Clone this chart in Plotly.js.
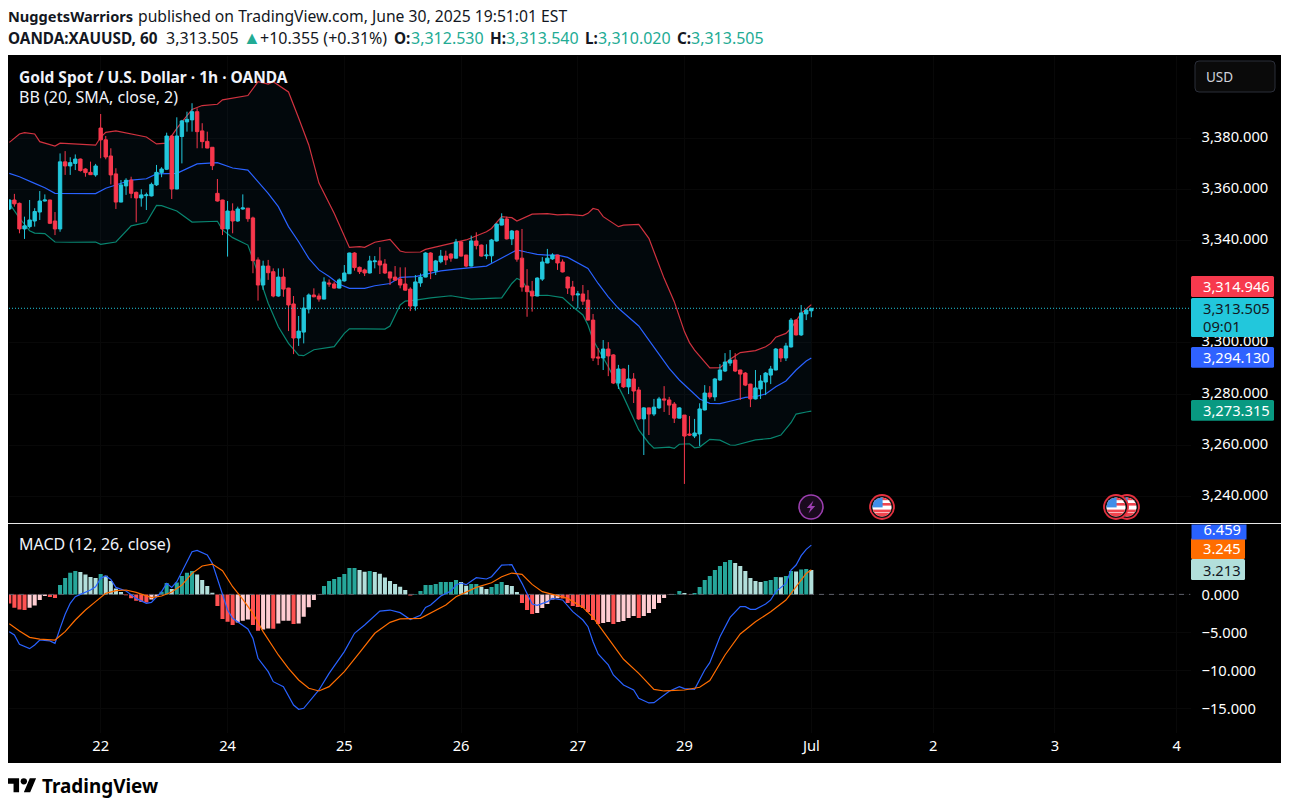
<!DOCTYPE html>
<html><head><meta charset="utf-8">
<script src="https://cdn.plot.ly/plotly-3.0.1.min.js"></script>
<style>html,body{margin:0;padding:0;background:#fff;overflow:hidden}</style></head>
<body><div id="chart" style="width:1289px;height:809px"></div>
<script>
const opens=[3352.3,3355.8,3354.5,3344.5,3345.4,3347.6,3351.1,3355.4,3355.8,3347.6,
3344.5,3370.7,3369.1,3370.1,3371.8,3367.9,3366.6,3365.6,3383.9,3379.3,
3373.0,3366.0,3355.0,3361.3,3363.6,3358.8,3356.6,3357.5,3357.4,3361.7,
3366.5,3367.8,3380.8,3360.1,3380.6,3386.3,3387.1,3390.3,3382.8,3378.7,
3376.4,3358.4,3355.8,3344.5,3351.5,3347.6,3352.3,3352.6,3348.8,3332.4,
3322.6,3330.0,3327.8,3318.3,3325.7,3321.4,3315.2,3301.9,3304.2,3313.2,
3318.7,3318.3,3317.1,3323.4,3323.0,3321.4,3324.2,3327.0,3335.1,3329.5,
3328.5,3327.3,3331.7,3332.0,3330.8,3327.7,3325.7,3324.9,3323.0,3321.0,
3314.4,3323.4,3325.7,3335.1,3328.1,3331.7,3333.9,3334.7,3333.1,3339.4,
3334.3,3330.0,3339.8,3338.2,3334.0,3334.0,3339.8,3346.0,3348.4,3340.6,
3343.7,3333.1,3322.2,3320.2,3318.3,3324.9,3331.2,3332.8,3334.3,3331.6,
3325.7,3321.8,3318.7,3319.1,3316.7,3308.9,3294.5,3294.1,3297.6,3295.3,
3284.3,3289.8,3282.8,3285.9,3281.6,3270.3,3274.6,3272.2,3274.6,3278.1,
3277.7,3276.1,3270.6,3271.8,3264.4,3263.6,3264.4,3273.8,3280.4,3278.9,
3285.5,3289.0,3292.1,3293.3,3289.4,3288.2,3283.9,3278.1,3282.0,3284.7,
3287.4,3289.4,3297.6,3294.1,3298.4,3308.9,3303.1,3311.3,3312.53];
const closes=[3355.8,3354.3,3344.5,3345.7,3348.0,3351.3,3355.4,3355.8,3346.7,3344.5,
3370.7,3369.1,3370.4,3371.8,3367.3,3366.5,3365.7,3369.1,3379.3,3372.6,
3365.6,3355.0,3361.7,3363.5,3358.4,3356.6,3357.8,3357.8,3361.9,3366.6,
3367.9,3380.8,3360.1,3380.8,3386.7,3387.3,3390.3,3382.5,3378.6,3376.1,
3369.2,3355.4,3344.5,3351.5,3347.6,3352.3,3352.7,3348.5,3332.1,3322.6,
3330.0,3327.4,3318.3,3325.7,3321.0,3314.8,3301.9,3304.6,3313.6,3318.7,
3318.0,3317.1,3323.8,3323.0,3321.4,3324.6,3327.3,3335.1,3329.4,3327.8,
3327.3,3332.0,3332.0,3330.4,3327.3,3325.3,3324.5,3322.6,3320.6,3314.4,
3323.8,3325.7,3335.1,3328.1,3332.0,3333.9,3332.4,3333.1,3339.4,3333.9,
3330.0,3339.8,3338.0,3333.9,3334.3,3340.2,3346.4,3348.4,3340.6,3343.7,
3332.7,3321.8,3320.0,3318.3,3325.3,3331.6,3333.1,3334.3,3331.2,3327.7,
3321.4,3318.7,3319.1,3316.3,3308.9,3294.1,3294.1,3297.6,3294.9,3284.3,
3289.8,3282.8,3285.9,3281.2,3270.3,3274.6,3272.2,3274.9,3278.1,3277.7,
3275.7,3270.6,3274.6,3263.6,3264.0,3264.8,3274.2,3280.4,3278.9,3285.9,
3289.4,3292.5,3293.3,3289.0,3287.8,3283.5,3278.1,3282.4,3285.1,3288.2,
3289.8,3297.6,3294.1,3298.8,3308.9,3303.1,3311.7,3312.8,3313.505];
const highs=[3356.0,3358.2,3354.8,3349.3,3355.8,3352.6,3359.3,3358.0,3355.9,3351.1,
3374.0,3374.9,3372.5,3373.6,3372.0,3368.2,3370.8,3369.9,3389.4,3380.8,
3376.0,3368.2,3363.6,3364.3,3364.9,3359.1,3360.0,3358.7,3362.6,3369.5,
3368.6,3382.1,3381.2,3388.1,3387.1,3390.3,3393.6,3391.6,3385.8,3382.5,
3376.5,3364.0,3355.9,3355.4,3354.5,3353.2,3358.0,3352.7,3349.3,3333.4,
3332.1,3332.4,3329.1,3329.1,3329.1,3321.5,3318.3,3310.5,3317.8,3319.3,
3321.3,3319.3,3325.6,3324.8,3323.9,3325.2,3330.4,3335.2,3335.4,3329.8,
3329.0,3334.0,3333.9,3337.4,3332.7,3327.8,3330.0,3329.5,3329.5,3321.7,
3326.5,3327.1,3335.4,3335.4,3332.4,3336.3,3336.0,3335.0,3340.6,3339.8,
3334.4,3341.9,3343.2,3338.4,3338.5,3340.6,3346.7,3350.6,3349.3,3344.1,
3344.1,3344.5,3328.8,3324.2,3325.6,3333.5,3336.7,3335.0,3334.4,3332.6,
3325.9,3324.2,3320.3,3322.6,3320.6,3311.3,3298.0,3301.1,3300.3,3295.6,
3291.4,3289.9,3291.4,3288.2,3282.8,3274.9,3274.7,3278.1,3278.9,3283.1,
3278.9,3276.9,3274.9,3271.8,3271.4,3270.3,3276.4,3283.5,3283.1,3286.3,
3291.7,3296.0,3297.2,3296.0,3289.5,3288.6,3284.0,3289.4,3287.4,3288.6,
3291.0,3298.0,3298.0,3300.0,3309.7,3309.3,3314.8,3313.2,3313.54];
const lows=[3351.9,3353.2,3342.8,3340.6,3344.7,3345.4,3348.0,3355.2,3346.4,3342.1,
3343.4,3365.6,3365.6,3367.5,3366.9,3364.9,3365.6,3364.9,3372.1,3371.7,
3361.9,3352.3,3354.9,3357.8,3356.5,3347.1,3353.2,3351.9,3357.2,3361.3,
3364.7,3367.5,3356.2,3360.0,3370.1,3382.5,3382.5,3376.0,3376.0,3376.0,
3367.5,3355.2,3342.1,3333.7,3342.8,3347.3,3352.0,3347.3,3327.2,3316.5,
3320.7,3324.6,3317.8,3318.0,3318.0,3304.6,3295.6,3298.8,3299.8,3311.5,
3317.8,3316.1,3317.0,3321.9,3321.2,3321.3,3323.9,3326.9,3328.2,3326.9,
3326.1,3327.1,3329.1,3326.9,3326.9,3322.6,3324.4,3321.3,3320.4,3312.4,
3312.6,3321.9,3325.6,3324.9,3326.5,3331.1,3330.4,3331.7,3333.0,3333.7,
3329.5,3329.8,3336.5,3333.7,3332.7,3331.3,3339.6,3345.9,3340.4,3338.2,
3331.7,3320.0,3310.2,3312.2,3318.2,3324.2,3331.1,3332.4,3328.5,3327.5,
3319.1,3316.3,3313.5,3314.8,3308.8,3292.9,3291.3,3289.4,3287.0,3283.9,
3282.0,3282.4,3280.0,3276.5,3269.9,3256.2,3264.0,3271.4,3274.2,3273.0,
3271.8,3268.7,3270.5,3244.9,3263.6,3262.8,3259.7,3273.6,3278.1,3277.3,
3285.1,3288.6,3291.0,3288.6,3277.7,3283.1,3274.9,3277.9,3278.1,3279.6,
3283.9,3289.3,3292.5,3292.9,3298.2,3302.9,3302.7,3308.9,3310.02];

const upperBars=[1,3,4,6,7,10,11,16,18,19,20,22,25,28,30,32,34,36,37,39,42,43,48,50,52,53,56,58,60,62,65,68,70,71,73,76,78,79,82,83,87,89,91,95,96,98,100,101,104,107,109,111,114,115,116,117,118,121,122,125,127,130,132,134,135,136,138,139,141,143,145,148,150,151,152,154,155,157,159];
const upperBand=[3378.3,3381.6,3382.1,3381.6,3378.6,3376.9,3378,3377.4,3377.2,3380.3,3382.2,3382.8,3381.6,3380.4,3377.7,3378.0,3383.8,3389,3391.2,3392.7,3393.2,3394.9,3396.6,3402,3401.1,3402,3398,3387.8,3377.3,3362.4,3350.6,3337.3,3337.6,3337.3,3339.3,3340.4,3335.9,3335.4,3335.5,3336.5,3338.5,3339.5,3340.2,3343.4,3344.7,3349.3,3348.9,3347.6,3350.3,3350.5,3350,3350.2,3349.7,3350.6,3352.5,3352.0,3349.3,3345.4,3346.0,3346.3,3340.8,3325.2,3316.1,3304.4,3300.1,3297.2,3292.7,3290.2,3290.3,3293.6,3296.2,3297,3298.5,3299.8,3302.2,3303.7,3305.7,3311.5,3314.946];
const basisBars=[1,3,6,8,10,13,18,20,22,25,28,30,34,36,38,42,45,48,51,52,54,56,58,60,62,64,66,68,71,73,76,78,81,83,86,89,93,95,97,99,101,103,105,107,109,111,115,117,119,121,123,125,127,129,131,133,135,137,139,141,144,146,148,150,152,154,156,158,159];
const basisBand=[3366.2,3364.9,3362.3,3360.6,3358.4,3358.4,3358.3,3360.4,3361.7,3363.6,3364.1,3366,3366.2,3368.2,3369.9,3370.4,3368.3,3367.5,3360.4,3358.4,3353.2,3345.4,3339.5,3333,3328.5,3325.9,3322.9,3321.3,3321.3,3322.3,3323.2,3325.6,3325.9,3326.8,3328.1,3328.8,3329.7,3330,3332.1,3334.3,3336.3,3335.4,3334.6,3334.3,3334.3,3333.4,3329.1,3323.2,3318,3313.5,3310.2,3306.6,3301.1,3295.3,3290,3285.5,3281.6,3278.1,3276.4,3276.3,3277.7,3278.7,3279,3280,3282.9,3285.1,3289.4,3292.9,3294.13];
const lowerBars=[1,3,5,6,8,10,13,18,19,22,25,28,30,31,34,37,42,43,45,48,50,52,54,56,58,59,61,65,67,68,71,75,76,78,79,81,84,88,92,96,98,100,101,102,104,107,110,112,114,115,116,119,122,125,127,128,131,132,133,135,136,137,139,141,143,144,148,151,153,155,156,158,159];
const lowerBand=[3354.5,3348.7,3343.8,3342.9,3342.7,3339.4,3339.3,3339.4,3338.5,3339.4,3345.7,3347,3353.7,3353.6,3351.5,3347.2,3347.5,3344.1,3341.1,3338.2,3327.2,3315.5,3306.3,3299.8,3295.2,3295,3297.3,3298.5,3303.7,3305.5,3305.5,3305.4,3306.6,3314.8,3316.3,3316.7,3317.6,3318.4,3317.1,3317.6,3317.6,3323.2,3325.2,3324.3,3318.5,3318.6,3317.7,3314.1,3310.9,3307,3301.1,3290.7,3279,3266,3260.8,3258.9,3259.3,3258.8,3260.4,3260.6,3259,3259.3,3262.3,3262,3260.1,3260,3262.1,3262.7,3264,3268.8,3272.2,3273,3273.315];

const macdHist=[-1.18,-1.75,-1.97,-2.05,-1.75,-1.44,-0.74,-0.22,-0.35,-0.48,
1.22,2.14,2.84,3.06,2.93,2.62,2.27,2.14,2.66,2.45,
1.75,0.79,0.31,-0.1,-0.52,-0.83,-1.0,-1.05,-0.66,-0.31,
0.35,1.49,0.70,1.57,2.40,2.84,3.06,2.62,1.88,1.09,
0.22,-1.53,-3.23,-3.58,-4.02,-3.67,-3.45,-3.28,-4.02,-4.76,
-4.59,-4.46,-4.50,-3.80,-3.45,-3.45,-3.89,-3.80,-2.93,-1.70,
-0.74,-0.04,1.09,1.75,2.01,2.27,2.66,3.45,3.46,3.19,
2.97,3.06,2.93,2.71,2.23,1.75,1.35,1.0,0.57,-0.13,
0.04,0.44,1.22,1.23,1.35,1.62,1.63,1.64,1.88,1.62,
1.14,1.35,1.36,1.0,0.70,0.96,1.35,1.62,1.22,1.09,
0.31,-1.14,-2.05,-2.58,-2.45,-1.79,-1.27,-0.66,-0.52,-0.53,
-1.14,-1.53,-1.66,-1.79,-2.32,-3.36,-3.89,-3.76,-3.63,-3.89,
-3.63,-3.49,-3.10,-2.84,-3.10,-2.84,-2.45,-1.92,-1.14,-0.48,
-0.04,0.05,0.44,0.17,-0.05,0.17,0.96,1.88,2.40,3.19,
3.71,4.24,4.50,4.11,3.71,3.06,2.14,1.75,1.62,1.75,
1.88,2.27,2.25,2.40,3.06,3.0,3.25,3.32,3.213];

const macdBars=[1,2,3,5,6,7,9,10,11,12,13,14,15,17,18,19,20,21,22,24,26,28,29,31,32,33,34,35,36,37,38,40,41,43,44,45,46,48,49,50,52,53,55,57,58,59,62,64,67,69,71,74,76,78,80,82,83,84,86,88,89,90,91,93,95,96,98,100,102,104,105,107,108,110,112,114,115,116,117,119,120,122,124,125,127,128,131,133,134,136,138,139,141,143,145,146,147,148,150,151,152,154,155,156,157,158,159];
const macdLine=[-4.88,-5.32,-6.54,-7.11,-6.63,-5.98,-6.1,-6.41,-4.45,-2.61,-1.17,-0.30,0,0.58,1.0,2.11,2.41,1.97,0.92,0.45,-0.52,-1.17,-1.04,0.36,1.45,0.92,1.67,2.98,4.29,5.6,5.77,5.16,4.07,0.14,-2.05,-3.14,-3.57,-4.53,-5.76,-8.38,-10.13,-11.44,-12.09,-14.5,-15.06,-14.93,-12.53,-10.35,-7.5,-5.1,-4.01,-2.18,-2.05,-2.39,-3.3,-2.75,-1.7,-1.39,-0.21,0.44,1.23,1.49,1.28,2.19,2.02,2.32,3.85,3.9,1.45,-1.26,-1.43,-0.95,-0.52,-0.73,-2.26,-3.36,-4.23,-6.2,-7.81,-9.25,-10.56,-11.87,-12.53,-13.62,-14.23,-14.19,-12.7,-12.09,-12.35,-12.45,-9.91,-8.95,-5.54,-3.01,-1.61,-1.61,-1.96,-1.96,-1.26,-0.73,0.36,1.45,3.2,3.85,5.08,5.9,6.459];
const signalBars=[1,3,5,7,10,12,14,16,18,20,22,24,26,29,31,33,35,37,39,41,43,45,47,49,51,54,56,58,60,62,64,67,70,73,76,78,82,84,87,89,93,96,98,100,102,104,106,108,111,114,116,119,122,125,128,130,134,137,139,142,145,148,151,154,156,158,159];
const signalLine=[-3.84,-4.8,-5.63,-5.85,-5.98,-4.88,-3.36,-2.05,-0.95,0.14,0.49,0.58,0.27,-0.43,-0.21,0.31,1.23,2.76,3.72,3.98,3.11,1.01,-0.65,-2.48,-4.88,-7.94,-9.69,-11.22,-12.31,-12.66,-12.09,-10.13,-7.64,-5.1,-3.66,-3.22,-3.14,-2.48,-1.39,-0.3,0.92,1.53,2.32,2.8,2.62,1.31,0.36,0,-0.52,-1.7,-3.01,-5.76,-8.5,-10.35,-12.45,-12.66,-12.53,-12.17,-11.3,-7.94,-5.19,-3.58,-2.27,-0.74,1.0,2.75,3.245];

const timeTickBars=[19,44,67,90,113,134,159,183,207,231];
const timeTickLabels=['22','24','25','26','27','29','Jul','2','3','4'];
const priceTicks=[3240,3260,3280,3300,3340,3360,3380];
const macdTicks=[0,-5,-10,-15];
const lastClose=3313.505, lastUpper=3314.946, lastBasis=3294.13, lastLower=3273.315;
const lastMacd=6.459, lastSignal=3.245, lastHist=3.213;

const W=1289,H=809;
const px=v=>v/W, py=v=>1-v/H;
const FONT='"Noto Sans", sans-serif';
const CY='#22c7dc',RED='#f23645',BLUE='#2962ff',GRN='#089981',ORG='#ff6d00',TEAL='#22ab94';
const bars=opens.map((_,i)=>i+1);
const xRange=[0.94,233.7], priceRange=[3229.64,3412.05], macdRange=[-18.17,9.23];
const labelNudge=0.625;

const histColor=macdHist.map((v,i)=>{const p=i?macdHist[i-1]:0;
  return v>=0?(v>=p?'#26a69a':'#b2dfdb'):(v<p?'#ff5252':'#ffcdd2');});
const fmt=v=>v.toLocaleString('en-US',{minimumFractionDigits:3,maximumFractionDigits:3});

const traces=[
 {type:'scatter',mode:'lines',x:upperBars,y:upperBand,xaxis:'x',yaxis:'y',line:{color:'#d0323f',width:1.2},hoverinfo:'skip'},
 {type:'scatter',mode:'lines',x:lowerBars,y:lowerBand,xaxis:'x',yaxis:'y',line:{color:'#088570',width:1.2},fill:'tonexty',fillcolor:'rgba(33,150,243,0.05)',hoverinfo:'skip'},
 {type:'scatter',mode:'lines',x:basisBars,y:basisBand,xaxis:'x',yaxis:'y',line:{color:BLUE,width:1.2},hoverinfo:'skip'},
 {type:'candlestick',x:bars,open:opens,high:highs,low:lows,close:closes,xaxis:'x',yaxis:'y3',whiskerwidth:0,
  increasing:{line:{color:CY,width:1},fillcolor:CY},decreasing:{line:{color:'#f7374c',width:1},fillcolor:'#f7374c'},hoverinfo:'skip'},
 {type:'scatter',mode:'lines',x:xRange,y:[lastClose,lastClose],xaxis:'x',yaxis:'y3',line:{color:CY,width:1,dash:'1px 2px'},hoverinfo:'skip'},
 {type:'scatter',mode:'markers',x:priceTicks.map(()=>xRange[1]),y:priceTicks,xaxis:'x',yaxis:'y4',marker:{opacity:0,size:1},hoverinfo:'skip'},
 {type:'bar',x:bars,y:macdHist,xaxis:'x',yaxis:'y2',width:0.8,marker:{color:histColor,line:{width:0}},hoverinfo:'skip'},
 {type:'scatter',mode:'lines',x:xRange,y:[0,0],xaxis:'x',yaxis:'y2',line:{color:'#5d606b',width:1,dash:'5px 5px'},hoverinfo:'skip'},
 {type:'scatter',mode:'lines',x:macdBars,y:macdLine,xaxis:'x',yaxis:'y2',line:{color:BLUE,width:1.2},hoverinfo:'skip'},
 {type:'scatter',mode:'lines',x:signalBars,y:signalLine,xaxis:'x',yaxis:'y2',line:{color:ORG,width:1.2},hoverinfo:'skip'}
];

const svgUri=s=>'data:image/svg+xml;charset=utf-8,'+encodeURIComponent(s);
const flag=`<svg xmlns="http://www.w3.org/2000/svg" width="78" height="78" viewBox="0 0 26 26"><defs><clipPath id="c"><circle cx="13" cy="13" r="9.6"/></clipPath></defs><circle cx="13" cy="13" r="12" fill="#111" stroke="#e5303f" stroke-width="1.8"/><g clip-path="url(#c)"><rect width="26" height="26" fill="#fff"/><rect x="3" y="3" width="20" height="3.2" fill="#f0454f"/><rect x="3" y="9" width="20" height="2.6" fill="#f0454f"/><rect x="3" y="15.6" width="20" height="2.8" fill="#f0454f"/><rect x="3" y="19" width="20" height="4" fill="#f0454f"/><rect x="3" y="3" width="10.6" height="10.4" fill="#3f8fe8"/></g></svg>`;
const bolt=`<svg xmlns="http://www.w3.org/2000/svg" width="78" height="78" viewBox="0 0 26 26"><circle cx="13" cy="13" r="12" fill="#1a0a1e" stroke="#9c3fb0" stroke-width="1.6"/><path d="M15.5 6.5 L8.8 14 H12.6 L10.5 19.5 L17.2 12 H13.4 Z" fill="#9c3fb0"/></svg>`;
const tvLogo=`<svg xmlns="http://www.w3.org/2000/svg" width="108" height="84" viewBox="0 0 36 28"><path d="M14 22H7V11H0V4h14v18zM28 22h-8l7.5-18h8L28 22z" fill="#000"/><circle cx="20" cy="8" r="4" fill="#000"/></svg>`;
const img=(src,x,y,w,h)=>({source:svgUri(src),xref:'paper',yref:'paper',x:px(x),y:py(y),sizex:w/W,sizey:h/H,xanchor:'left',yanchor:'top',sizing:'stretch',layer:'above'});
const images=[img(bolt,798,494,26,26),img(flag,869,494,26,26),img(flag,1114,494,26,26),img(flag,1103,494,26,26),img(tvLogo,8,775,28.5,22)];

const txt=(s,x,y,o={})=>({text:s,xref:'paper',yref:'paper',x:px(x-1),y:py(y),xanchor:'left',yanchor:'middle',showarrow:false,align:'left',borderpad:0,
  font:{family:FONT,size:o.size||16,color:o.color||'#131722'}});
const b=s=>'<b>'+s+'</b>';
const TAG={size:14.7};
const tag=(s,y,color)=>txt(s,1203,y,{size:TAG.size,color});
const annotations=[
 txt(b('NuggetsWarriors'),8,16,{size:14.6}),
 txt('published on TradingView.com, June 30, 2025 19:51:01 EST',138,16,{size:15.7}),
 txt(b('OANDA:XAUUSD, 60'),8,38,{size:15.3}),
 txt(fmt(lastClose),166,38),
 txt('▲',243,37,{color:TEAL,size:18}),
 txt('+10.355 (+0.31%)',260,38),
 txt(b('O:'),394,38,{size:15.3}),txt('3,312.530',411,38,{color:TEAL}),
 txt(b('H:'),490,38,{size:15.3}),txt('3,313.540',506,38,{color:TEAL}),
 txt(b('L:'),585,38,{size:15.3}),txt('3,310.020',598,38,{color:TEAL}),
 txt(b('C:'),677,38,{size:15.3}),txt('3,313.505',691,38,{color:TEAL}),
 txt(b('Gold Spot / U.S. Dollar · 1h · OANDA'),19,77,{color:'#f0f3fa',size:15.5}),
 txt('BB (20, SMA, close, 2)',19,97,{color:'#f0f3fa'}),
 txt('MACD (12, 26, close)',19,544,{color:'#f0f3fa'}),
 txt('USD',1206,77,{color:'#d1d4dc',size:13.5}),
 txt(b('TradingView'),42,786,{color:'#000',size:18.9}),
 tag(fmt(lastUpper),286,'#fff'),
 tag(fmt(lastClose),308,'#131722'),
 tag('09:01',326,'#131722'),
 tag(fmt(lastBasis),356.7,'#fff'),
 tag(fmt(lastLower),410,'#fff'),
 {text:'&nbsp;&nbsp;&nbsp;'+lastMacd.toFixed(3),xref:'paper',yref:'paper',x:px(1191),y:py(524),xanchor:'left',yanchor:'top',width:54,height:14,showarrow:false,align:'left',valign:'bottom',borderpad:0,bgcolor:BLUE,font:{family:FONT,size:14.7,color:'#fff'}},
 tag(lastSignal.toFixed(3),548,'#fff'),
 tag(lastHist.toFixed(3),569.7,'#131722')
];

const rr=(x0,y0,x1,y1,r)=>{const X=v=>px(v),Y=v=>py(v);
 return `M${X(x0+r)},${Y(y0)}L${X(x1-r)},${Y(y0)}Q${X(x1)},${Y(y0)} ${X(x1)},${Y(y0+r)}L${X(x1)},${Y(y1-r)}Q${X(x1)},${Y(y1)} ${X(x1-r)},${Y(y1)}L${X(x0+r)},${Y(y1)}Q${X(x0)},${Y(y1)} ${X(x0)},${Y(y1-r)}L${X(x0)},${Y(y0+r)}Q${X(x0)},${Y(y0)} ${X(x0+r)},${Y(y0)}Z`;};
const tagRect=(x1,y0,y1,c)=>({type:'path',xref:'paper',yref:'paper',path:rr(1191,y0,x1,y1,1.5),fillcolor:c,line:{width:0},layer:'above'});
const shapes=[
 {type:'rect',xref:'paper',yref:'paper',x0:px(8),x1:px(1281),y0:py(55),y1:py(763),fillcolor:'#000',line:{width:0},layer:'below'},
 {type:'path',xref:'paper',yref:'paper',path:rr(1195,61,1275,92,4),fillcolor:'#0a0a0a',line:{color:'#2a2e39',width:1},layer:'above'},
 {type:'line',xref:'paper',yref:'paper',x0:px(8),x1:px(1281),y0:py(523.5),y1:py(523.5),line:{color:'#e8e8e8',width:1},layer:'above'},
 tagRect(1274,276,297,'#f7394d'),
 tagRect(1274,298,337,CY),
 tagRect(1274,347,367.7,'#2f62ff'),
 tagRect(1274,400,420.7,GRN),
 tagRect(1245,538,559,ORG),
 tagRect(1245,559,580,'#b2dfdb')
];

const grid='#080808', tickFont={family:FONT,size:14.7,color:'#ffffff'};
const layout={width:W,height:H,margin:{l:0,r:0,t:0,b:0,pad:0},paper_bgcolor:'#fff',plot_bgcolor:'rgba(0,0,0,0)',showlegend:false,hovermode:false,dragmode:false,barmode:'overlay',boxgap:0.05,
 xaxis:{domain:[px(9),px(1190.5)],range:xRange,anchor:'y2',tickmode:'array',tickvals:timeTickBars,ticktext:timeTickLabels,showgrid:true,gridcolor:grid,gridwidth:1,zeroline:false,showline:false,ticks:'',ticklabelstandoff:2,tickfont:tickFont,tickangle:0,rangeslider:{visible:false},fixedrange:true},
 yaxis:{domain:[py(523),py(56)],range:priceRange,side:'right',anchor:'x',tickmode:'array',tickvals:priceTicks,showticklabels:false,showgrid:true,gridcolor:grid,zeroline:false,showline:false,ticks:'',fixedrange:true},
 yaxis3:{domain:[py(523),py(56)],range:priceRange,overlaying:'y',anchor:'x',visible:false,fixedrange:true},
 yaxis4:{domain:[py(523),py(56)],range:[priceRange[0]-labelNudge,priceRange[1]-labelNudge],overlaying:'y',anchor:'x',side:'right',tickmode:'array',tickvals:priceTicks,tickformat:',.3f',showgrid:false,zeroline:false,showline:false,ticks:'',ticklabelstandoff:10,tickfont:tickFont,fixedrange:true},
 yaxis2:{domain:[py(733),py(524)],range:macdRange,side:'right',anchor:'x',tickmode:'array',tickvals:macdTicks,tickformat:'.3f',showgrid:true,gridcolor:grid,zeroline:false,showline:false,ticks:'',ticklabelstandoff:10,tickfont:tickFont,fixedrange:true},
 annotations,shapes,images};
Plotly.newPlot('chart',traces,layout,{staticPlot:true,displayModeBar:false,responsive:false});
</script></body></html>
